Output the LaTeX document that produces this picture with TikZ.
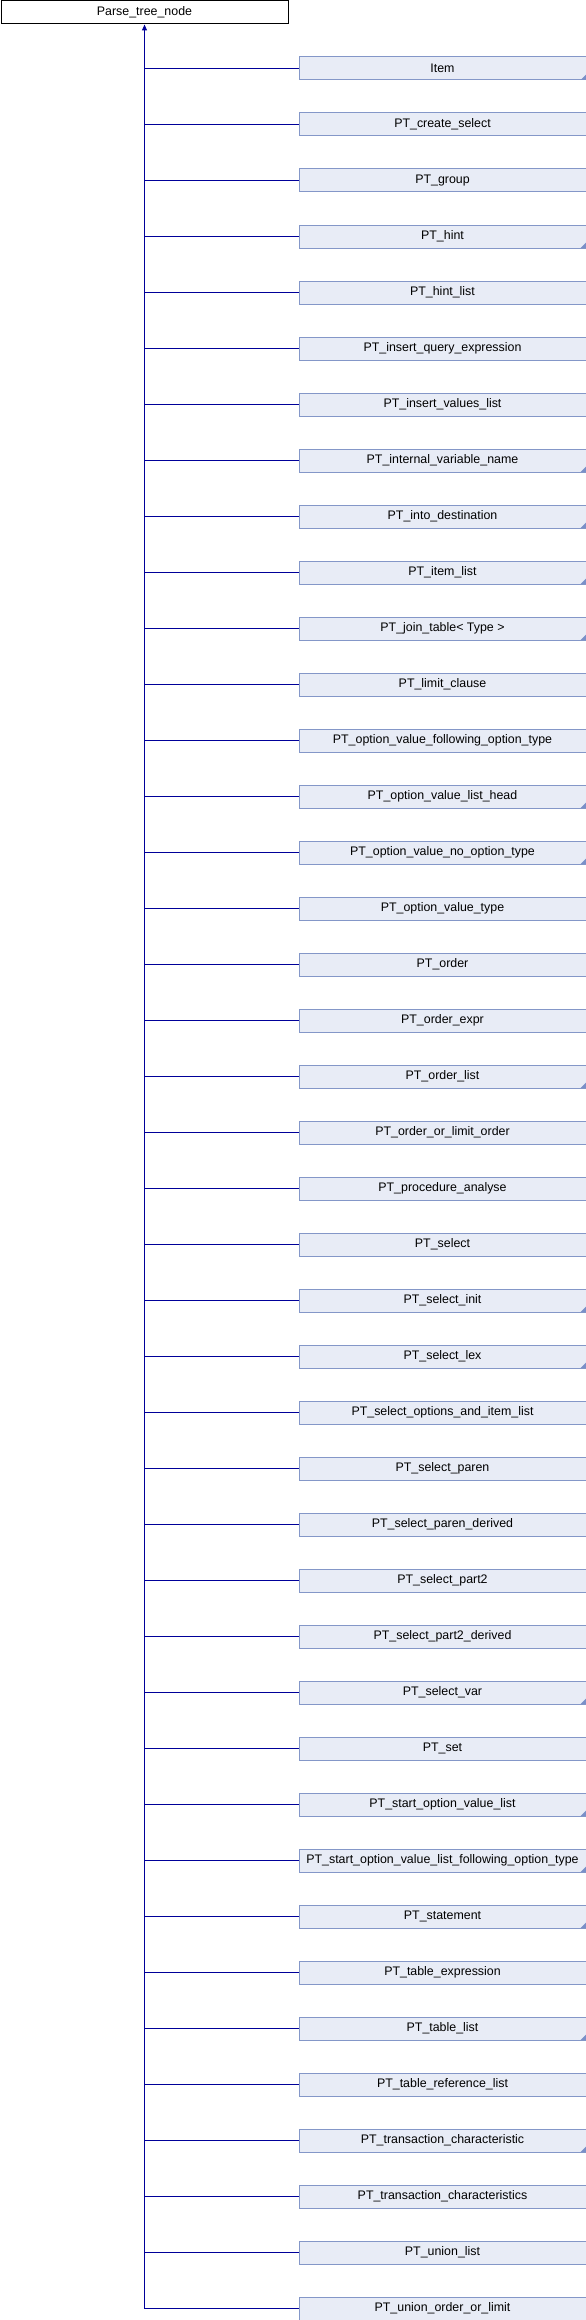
\documentclass[tikz,border=0pt]{standalone}
\usepackage{fontspec}
\setmainfont{Liberation Sans}
\usetikzlibrary{arrows.meta}
\definecolor{boxfill}{HTML}{E8ECF6}
\definecolor{boxline}{HTML}{8497C8}
\definecolor{conncol}{HTML}{000099}
\definecolor{tricol}{HTML}{7A90C8}
\tikzset{
  rootbox/.style={draw=black, line width=1pt, fill=white, minimum width=287pt, minimum height=23pt, inner sep=0pt, anchor=north west, font=\fontsize{12.4}{14}\selectfont},
  childbox/.style={draw=boxline, line width=1pt, fill=boxfill, minimum width=287pt, minimum height=23pt, inner sep=0pt, anchor=north west, font=\fontsize{12.4}{14}\selectfont},
  conn/.style={draw=conncol, line width=1pt},
  corner/.style={fill=tricol}
}
\begin{document}
\begin{tikzpicture}[x=1pt,y=-1pt]
\useasboundingbox (0,0) rectangle (586,2320);
\node[rootbox] (root) at (0.5,0.5) {Parse\_tree\_node};
\foreach \nm/\tr [count=\i from 0] in {
 Item/1, PT\_create\_select/0, PT\_group/0, PT\_hint/1, PT\_hint\_list/0,
 PT\_insert\_query\_expression/0, PT\_insert\_values\_list/0, PT\_internal\_variable\_name/1,
 PT\_into\_destination/1, PT\_item\_list/1, {PT\_join\_table< Type >}/1, PT\_limit\_clause/0,
 PT\_option\_value\_following\_option\_type/0, PT\_option\_value\_list\_head/1,
 PT\_option\_value\_no\_option\_type/1, PT\_option\_value\_type/0, PT\_order/0, PT\_order\_expr/0,
 PT\_order\_list/1, PT\_order\_or\_limit\_order/0, PT\_procedure\_analyse/0, PT\_select/0,
 PT\_select\_init/1, PT\_select\_lex/1, PT\_select\_options\_and\_item\_list/0, PT\_select\_paren/0,
 PT\_select\_paren\_derived/0, PT\_select\_part2/0, PT\_select\_part2\_derived/0, PT\_select\_var/1,
 PT\_set/0, PT\_start\_option\_value\_list/1, PT\_start\_option\_value\_list\_following\_option\_type/1,
 PT\_statement/1, PT\_table\_expression/0, PT\_table\_list/1, PT\_table\_reference\_list/0,
 PT\_transaction\_characteristic/1, PT\_transaction\_characteristics/0, PT\_union\_list/0,
 PT\_union\_order\_or\_limit/0}
{
  \node[childbox] (c\i) at (298.5,{56.5+56*\i}) {\nm};
  \ifnum\tr=1
    \fill[corner] ([xshift=-6pt,yshift=0.5pt]c\i.south east) -- ([xshift=0.5pt,yshift=0.5pt]c\i.south east) -- ([xshift=0.5pt,yshift=7pt]c\i.south east) -- cycle;
  \fi
  \draw[conn] (c\i.west) -- (c\i.west -| root.south);
}
\draw[conn, -{Triangle[width=5pt,length=6pt]}] (c40.west -| root.south) -- (root.south);
\end{tikzpicture}
\end{document}
